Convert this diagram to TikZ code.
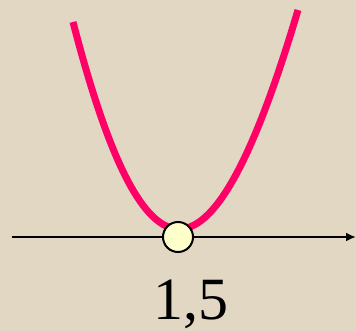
\documentclass[tikz,border=0pt]{standalone}
\usepackage{fontspec}
\setmainfont{Liberation Serif}
\usetikzlibrary{arrows.meta}
\definecolor{bg}{HTML}{E2D7C3}
\definecolor{curvecol}{HTML}{FF0066}
\definecolor{dotfill}{HTML}{FFFFCC}
\tikzset{
  axisline/.style={line width=2pt, -{Latex[length=10pt,width=9pt]}},
  curveline/.style={line width=7pt, curvecol},
  vertexdot/.style={circle, draw=black, line width=2pt, fill=dotfill, minimum size=30pt, inner sep=0pt},
  ticklabel/.style={anchor=base, inner sep=0pt, font=\fontsize{60}{66}\selectfont}
}
\begin{document}
\begin{tikzpicture}[x=1pt,y=-1pt]
\fill[bg] (0,0) rectangle (356,331);
\useasboundingbox (0,0) rectangle (356,331);
\coordinate (axL) at (12,237);
\coordinate (axR) at (356,237);
\coordinate (cL) at (73,22);
\coordinate (cR) at (298,10);
\draw[axisline] (axL) -- (axR);
\draw[curveline] (cL) .. controls (145,300) and (212,300) .. (cR);
\node[vertexdot] (v) at (178,237) {};
\node[ticklabel] (lab) at (191,319) {1,5};
\end{tikzpicture}
\end{document}
